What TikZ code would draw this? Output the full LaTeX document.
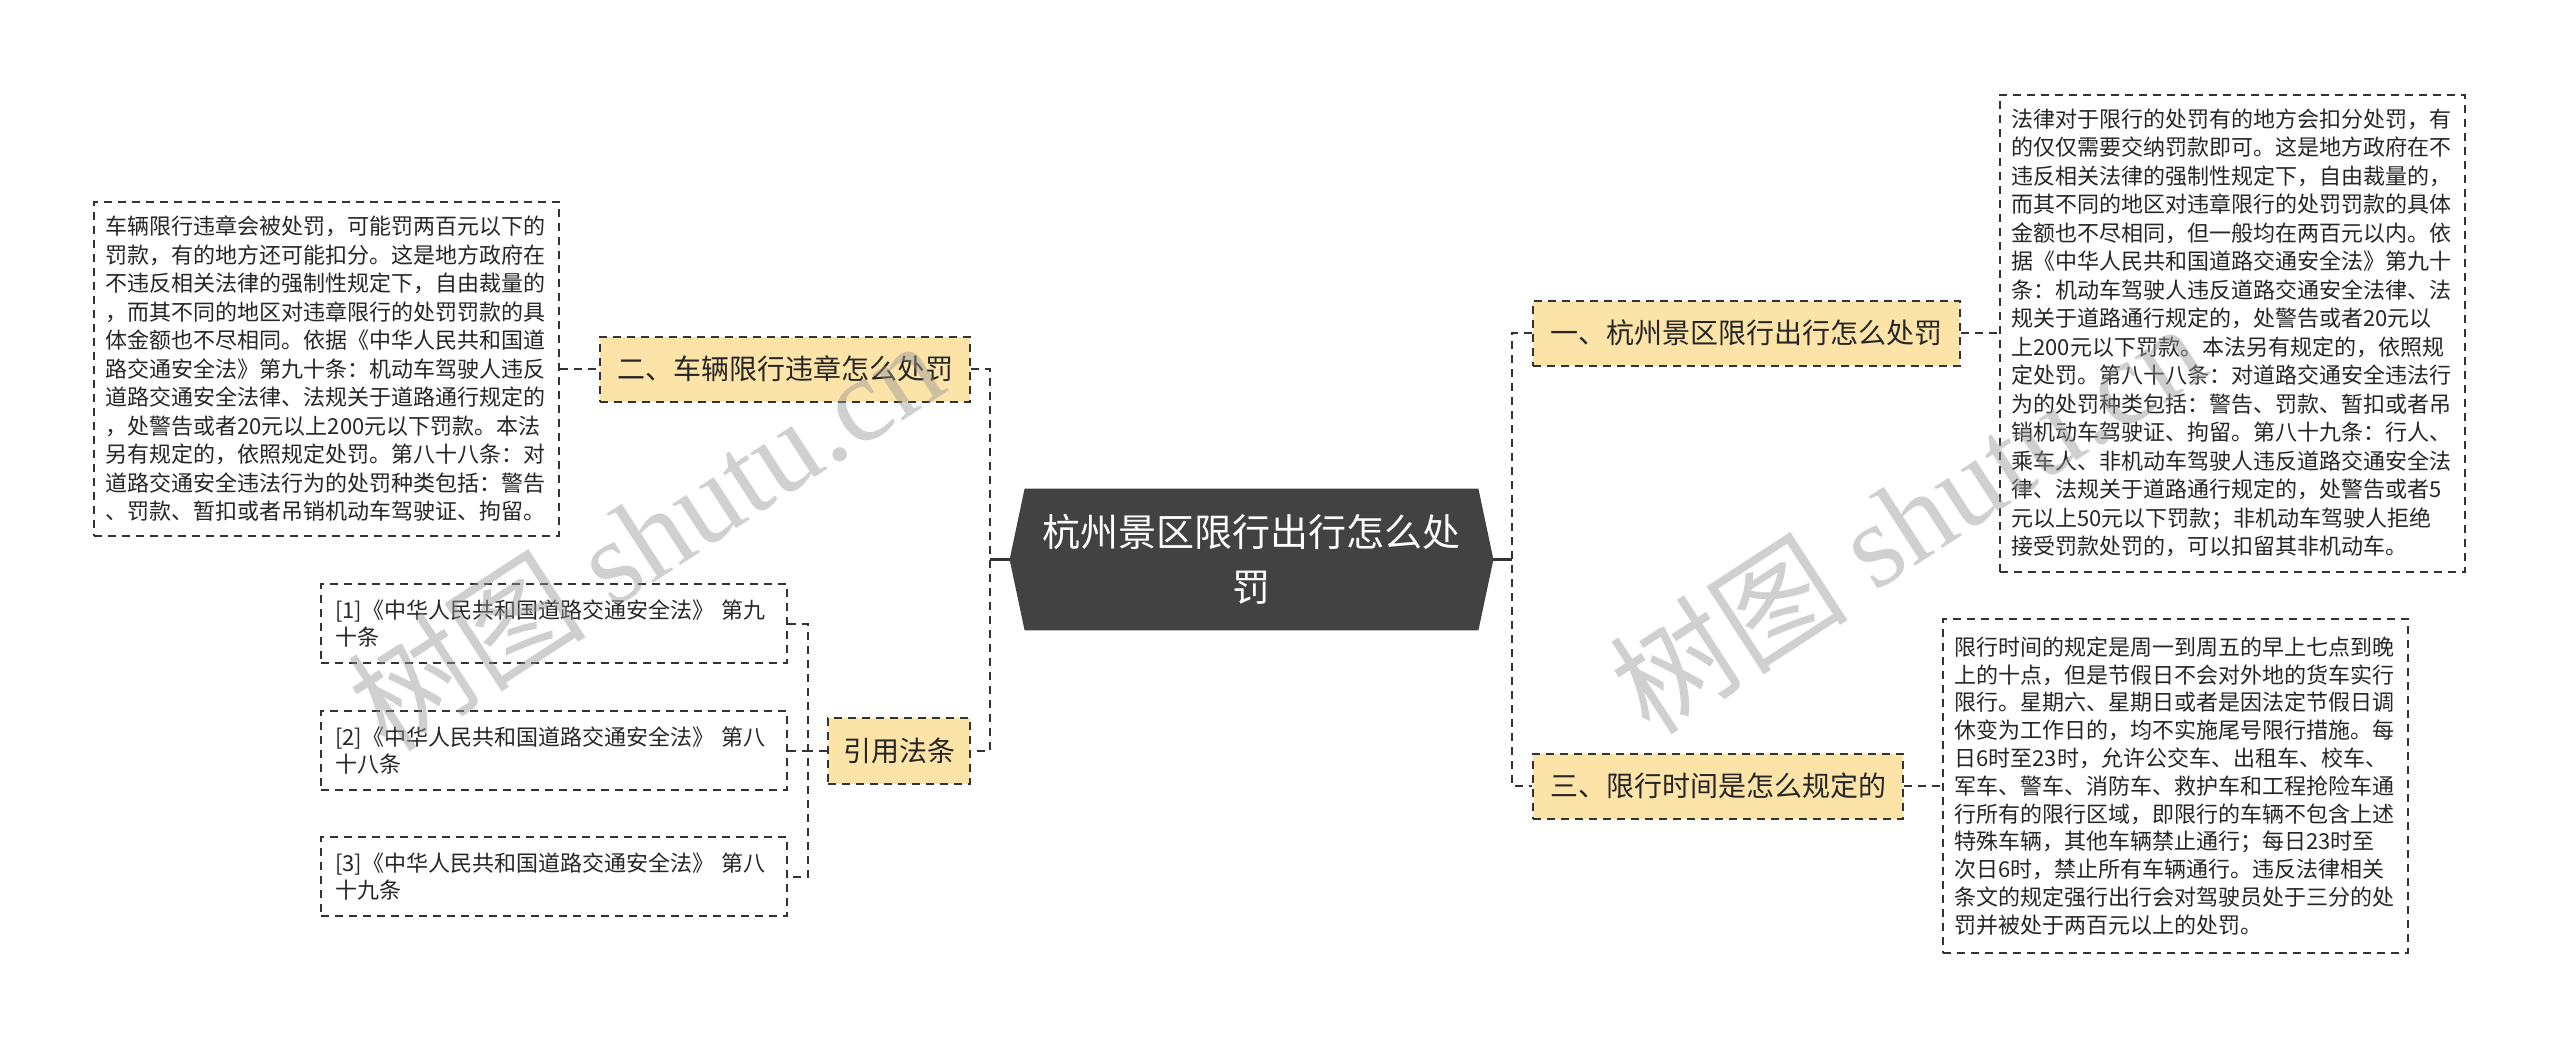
\documentclass[tikz,border=0pt]{standalone}
\usepackage{fontspec}
\setmainfont{Noto Sans CJK SC}
\newfontfamily\wmserif{Liberation Serif}
\usetikzlibrary{backgrounds,calc}
\definecolor{branchfill}{HTML}{FCE3A8}
\definecolor{centerfill}{HTML}{424242}
\definecolor{linecol}{HTML}{333333}
\definecolor{wmcol}{HTML}{969696}
\begin{document}
\begin{tikzpicture}[x=0.5pt,y=-0.5pt,
  dashline/.style={draw=linecol, line width=1pt, dash pattern=on 4pt off 3pt},
  solidline/.style={draw=linecol, line width=1.2pt},
  textbox/.style={dashline, fill=white, inner sep=0pt, align=left,
    font=\fontsize{11pt}{14.25pt}\selectfont, text=black!85,
    minimum width=232.5pt, text width=221pt},
  citebox/.style={dashline, fill=white, inner sep=0pt, align=left,
    font=\fontsize{11pt}{13.5pt}\selectfont, text=black!85,
    minimum width=233pt, text width=219pt, minimum height=39.5pt},
  branchbox/.style={dashline, fill=branchfill, inner sep=0pt,
    font=\fontsize{14pt}{16pt}\selectfont, text=black!85, minimum height=32.5pt},
  centertext/.style={inner sep=0pt, align=center, text=white,
    font=\fontsize{19pt}{27.5pt}\selectfont,
    minimum width=226.5pt, minimum height=70.5pt},
  wm/.style={inner sep=0pt, text=wmcol, opacity=0.45, font=\fontsize{60pt}{64pt}\selectfont}
]
\useasboundingbox (0,0) rectangle (2560,1049);

% trunk coordinates
\coordinate (lt) at (990,0);
\coordinate (rt) at (1512,0);
\coordinate (st) at (808,0);

% center node
\node[centertext] (c) at (1251.5,559.5) {杭州景区限行出行怎么处\\罚};
\coordinate (cl) at ($(c.west)+(-15,0)$);
\coordinate (cr) at ($(c.east)+(15,0)$);
\begin{scope}[on background layer]
\fill[centerfill] (c.north west) -- (c.north east) -- (cr) -- (c.south east) -- (c.south west) -- (cl) -- cycle;
\end{scope}

% branches
\node[branchbox, minimum width=185pt] (b2) at (785,369) {二、车辆限行违章怎么处罚};
\node[branchbox, minimum width=71pt, minimum height=33pt] (yy) at (899,750.5) {引用法条};
\node[branchbox, minimum width=213.5pt] (b1) at (1746.5,333) {一、杭州景区限行出行怎么处罚};
\node[branchbox, minimum width=185pt] (b3) at (1718,786) {三、限行时间是怎么规定的};

% left text box
\node[textbox, minimum height=167pt] (lb) at (326.5,369) {车辆限行违章会被处罚，可能罚两百元以下的\\
罚款，有的地方还可能扣分。这是地方政府在\\
不违反相关法律的强制性规定下，自由裁量的\\
，而其不同的地区对违章限行的处罚罚款的具\\
体金额也不尽相同。依据《中华人民共和国道\\
路交通安全法》第九十条：机动车驾驶人违反\\
道路交通安全法律、法规关于道路通行规定的\\
，处警告或者20元以上200元以下罚款。本法\\
另有规定的，依照规定处罚。第八十八条：对\\
道路交通安全违法行为的处罚种类包括：警告\\
、罚款、暂扣或者吊销机动车驾驶证、拘留。};

% citation boxes
\node[citebox] (c1) at (554,623.5) {[1]《中华人民共和国道路交通安全法》 第九\\十条};
\node[citebox] (c2) at (554,750.5) {[2]《中华人民共和国道路交通安全法》 第八\\十八条};
\node[citebox] (c3) at (554,876.5) {[3]《中华人民共和国道路交通安全法》 第八\\十九条};

% right text box 1
\node[textbox, minimum height=238.5pt] (r1) at (2232.5,333) {法律对于限行的处罚有的地方会扣分处罚，有\\
的仅仅需要交纳罚款即可。这是地方政府在不\\
违反相关法律的强制性规定下，自由裁量的，\\
而其不同的地区对违章限行的处罚罚款的具体\\
金额也不尽相同，但一般均在两百元以内。依\\
据《中华人民共和国道路交通安全法》第九十\\
条：机动车驾驶人违反道路交通安全法律、法\\
规关于道路通行规定的，处警告或者20元以\\
上200元以下罚款。本法另有规定的，依照规\\
定处罚。第八十八条：对道路交通安全违法行\\
为的处罚种类包括：警告、罚款、暂扣或者吊\\
销机动车驾驶证、拘留。第八十九条：行人、\\
乘车人、非机动车驾驶人违反道路交通安全法\\
律、法规关于道路通行规定的，处警告或者5\\
元以上50元以下罚款；非机动车驾驶人拒绝\\
接受罚款处罚的，可以扣留其非机动车。};

% right text box 3
\node[textbox, minimum height=167pt, font=\fontsize{11pt}{13.9pt}\selectfont] (r3) at (2175.5,786) {限行时间的规定是周一到周五的早上七点到晚\\
上的十点，但是节假日不会对外地的货车实行\\
限行。星期六、星期日或者是因法定节假日调\\
休变为工作日的，均不实施尾号限行措施。每\\
日6时至23时，允许公交车、出租车、校车、\\
军车、警车、消防车、救护车和工程抢险车通\\
行所有的限行区域，即限行的车辆不包含上述\\
特殊车辆，其他车辆禁止通行；每日23时至\\
次日6时，禁止所有车辆通行。违反法律相关\\
条文的规定强行出行会对驾驶员处于三分的处\\
罚并被处于两百元以上的处罚。};

% connectors: left side
\draw[solidline] (cl) -- (cl -| lt);
\draw[dashline] (b2.east) -- (b2.east -| lt) -- (yy.east -| lt) -- (yy.east);
\draw[dashline] (lb.east) -- (b2.west);
\draw[dashline] (yy.west) -- (yy.west -| st);
\draw[dashline] (c1.east) -- (c1.east -| st) -- (c3.east -| st) -- (c3.east);
\draw[dashline] (c2.east) -- (c2.east -| st);

% connectors: right side
\draw[solidline] (cr) -- (cr -| rt);
\draw[dashline] (b1.west) -- (b1.west -| rt) -- (b3.west -| rt) -- (b3.west);
\draw[dashline] (b1.east) -- (r1.west);
\draw[dashline] (b3.east) -- (r3.west);

% watermarks
\node[wm, anchor=base west, rotate=33] (w1) at (388,755) {树图 {\wmserif shutu.cn}};
\node[wm, anchor=base west, rotate=33] (w2) at (1650,738) {树图 {\wmserif shutu.cn}};
\end{tikzpicture}
\end{document}
